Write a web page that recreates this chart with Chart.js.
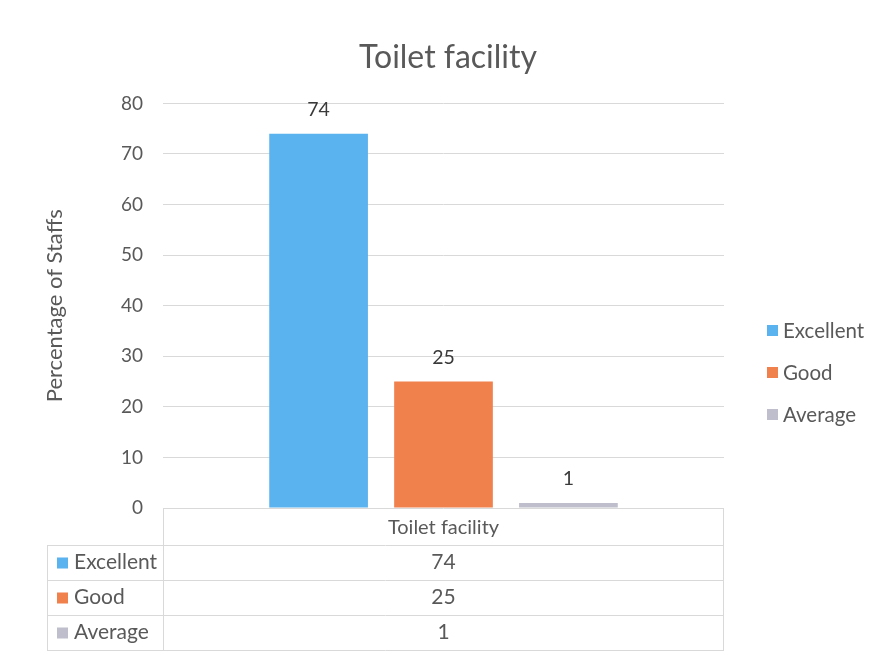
<!DOCTYPE html>
<html><head><meta charset="utf-8">
<script src="https://cdn.jsdelivr.net/npm/chart.js@4/dist/chart.umd.min.js"></script>
<style>html,body{margin:0;padding:0;background:#fff}#wrap{width:882px;height:655px}</style>
</head><body><div id="wrap"><canvas id="c" width="882" height="655"></canvas></div>
<script>
const categories = ['Toilet facility'];
const seriesNames = ['Excellent', 'Good', 'Average'];
const excellent = [74];
const good = [25];
const average = [1];
const yTickStep = 10;
const yMin = 0;
const yMax = 80;
const seriesColors = ['#5AB2EE', '#F0804C', '#BEBECC'];

const FONT = 'Lato, "Open Sans", sans-serif';
const TEXT = '#595959';

const overlay = {
  id: 'overlay',
  afterDatasetsDraw(chart) {
    const ctx = chart.ctx;
    const ca = chart.chartArea;
    ctx.save();
    // value labels above bars
    chart.data.datasets.forEach((ds, i) => {
      const meta = chart.getDatasetMeta(i);
      meta.data.forEach((bar, j) => {
        ctx.fillStyle = '#3a3a3a';
        ctx.font = '19.5px ' + FONT;
        ctx.textAlign = 'center';
        ctx.textBaseline = 'middle';
        ctx.fillText(String(ds.data[j]), bar.x, bar.y - 24);
      });
    });
    // right legend
    const legX = 767, legY0 = 330, legStep = 42;
    chart.data.datasets.forEach((ds, i) => {
      const y = legY0 + i * legStep;
      ctx.fillStyle = ds.backgroundColor;
      ctx.fillRect(legX, y - 5, 11, 11);
      ctx.fillStyle = TEXT;
      ctx.font = '20.5px ' + FONT;
      ctx.textAlign = 'left';
      ctx.textBaseline = 'middle';
      ctx.fillText(ds.label, legX + 16, y + 1);
    });
    // data table
    const tLeft = 47;
    const headerH = 37, rowH = 35;
    const top = ca.bottom;
    const bottom = top + headerH + rowH * chart.data.datasets.length;
    ctx.strokeStyle = '#d9d9d9';
    ctx.lineWidth = 1;
    ctx.beginPath();
    ctx.moveTo(ca.left + 0.5, top); ctx.lineTo(ca.left + 0.5, bottom);
    ctx.moveTo(ca.right - 0.5, top); ctx.lineTo(ca.right - 0.5, bottom);
    ctx.moveTo(tLeft + 0.5, top + headerH); ctx.lineTo(tLeft + 0.5, bottom);
    for (let r = 0; r <= chart.data.datasets.length; r++) {
      const y = Math.round(top + headerH + r * rowH) + 0.5;
      ctx.moveTo(tLeft, y); ctx.lineTo(ca.right, y);
    }
    ctx.stroke();
    const cx = (ca.left + ca.right) / 2;
    ctx.fillStyle = TEXT;
    ctx.textBaseline = 'middle';
    ctx.textAlign = 'center';
    ctx.font = '20px ' + FONT;
    ctx.fillText(chart.data.labels[0], cx, top + headerH / 2 + 1);
    chart.data.datasets.forEach((ds, i) => {
      const y = top + headerH + rowH * i + rowH / 2;
      ctx.fillStyle = ds.backgroundColor;
      ctx.fillRect(tLeft + 10, y - 5, 11, 11);
      ctx.fillStyle = TEXT;
      ctx.font = '21px ' + FONT;
      ctx.textAlign = 'left';
      ctx.fillText(ds.label, tLeft + 27, y);
      ctx.textAlign = 'center';
      ctx.fillText(String(ds.data[0]), cx, y);
    });
    ctx.restore();
  }
};

const seriesData = [excellent, good, average];
new Chart(document.getElementById('c'), {
  type: 'bar',
  data: {
    labels: categories,
    datasets: seriesNames.map((n, i) => ({
      label: n,
      data: seriesData[i],
      backgroundColor: seriesColors[i],
      borderWidth: 0,
      barPercentage: 0.79,
      categoryPercentage: 0.668
    }))
  },
  options: {
    responsive: false,
    animation: false,
    devicePixelRatio: 1,
    layout: { padding: { left: 14, right: 0, top: 0, bottom: 147 } },
    plugins: {
      legend: { display: false },
      tooltip: { enabled: false },
      title: {
        display: true,
        text: 'Toilet facility',
        color: TEXT,
        font: { family: FONT, size: 32, weight: 'normal' },
        padding: { top: 38, bottom: 27 }
      }
    },
    scales: {
      x: { display: false },
      y: {
        min: yMin, max: yMax,
        ticks: { stepSize: yTickStep, color: TEXT, font: { family: FONT, size: 19 }, padding: 20 },
        grid: { color: '#d9d9d9', drawTicks: false },
        border: { display: false },
        title: { display: true, text: 'Percentage of Staffs', color: TEXT, font: { family: FONT, size: 22 }, padding: { top: 28, bottom: 0 } },
        afterFit(scale) { scale.width = 149; }
      },
      spacer: {
        position: 'right',
        display: true,
        ticks: { display: false },
        grid: { display: false, drawTicks: false },
        border: { display: false },
        afterFit(scale) { scale.width = 158; }
      }
    }
  },
  plugins: [overlay]
});
</script>
</body></html>
